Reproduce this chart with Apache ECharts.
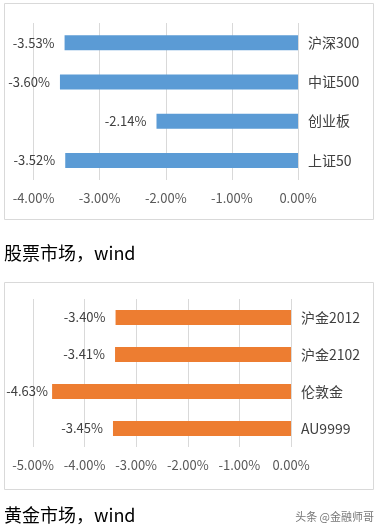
<!DOCTYPE html>
<html><head><meta charset="utf-8">
<script src="https://cdn.jsdelivr.net/npm/echarts@6/dist/echarts.min.js"></script>
<style>html,body{margin:0;padding:0;background:#fff}#c{width:382px;height:530px}</style>
</head><body><div id="c"></div>
<script>
var stockCats = ['沪深300', '中证500', '创业板', '上证50'];
var stockVals = [-3.53, -3.60, -2.14, -3.52];
var goldCats = ['沪金2012', '沪金2102', '伦敦金', 'AU9999'];
var goldVals = [-3.40, -3.41, -4.63, -3.45];
var stockTicks = [-4, -3, -2, -1, 0];
var goldTicks = [-5, -4, -3, -2, -1, 0];
var title1 = '股票市场，wind';
var title2 = '黄金市场，wind';
var watermark = '头条 @金融师哥';

var FONT = '"Noto Sans CJK SC", "Noto Sans", sans-serif';
var TXT = '#595959';
var GRID = '#D9D9D9';
function pct(v){ return Number(v).toFixed(2) + '%'; }

var grids = [
  {left:33.5, top:23, width:264.5, height:157},
  {left:33, top:299, width:258, height:148}
];

var chart = echarts.init(document.getElementById('c'), null, {renderer:'canvas'});
function xAx(idx, ticks){
  return {gridIndex: idx, type:'value', min: ticks[0], max: ticks[ticks.length-1], interval: 1,
    axisLine:{show:false}, axisTick:{show:false},
    splitLine:{show:true, lineStyle:{color:GRID, width:1}},
    axisLabel:{color:TXT, fontSize:13, fontFamily:FONT, margin:12, formatter: pct}};
}
function yAx(idx, cats){
  return {gridIndex: idx, type:'category', data: cats, inverse:true, position:'right',
    axisLine:{show:false}, axisTick:{show:false}, splitLine:{show:false},
    axisLabel:{color:'#404040', fontSize:14, fontFamily:FONT, margin:10}};
}
function ser(idx, vals, ticks, color){
  var g = grids[idx], mn = ticks[0], mx = ticks[ticks.length-1];
  var data = vals.map(function(v){
    var barLeft = g.left + (v - mn) / (mx - mn) * g.width;
    var d = 10;
    if (barLeft - d - 42 < 6) d = Math.max(0, barLeft - 48);
    return {value: v, label:{distance: d}};
  });
  return {type:'bar', xAxisIndex: idx, yAxisIndex: idx, data: data, barWidth: 15,
    itemStyle:{color: color},
    label:{show:true, position:'left', distance:10, color:'#404040', fontSize:13, fontFamily:FONT, formatter: function(p){return pct(p.value);}}};
}
chart.setOption({
  animation:false,
  textStyle:{fontFamily:FONT},
  graphic:[
    {type:'rect', shape:{x:4.5, y:3.5, width:369, height:216}, style:{fill:'none', stroke:GRID, lineWidth:1}},
    {type:'rect', shape:{x:4.5, y:282.5, width:369, height:207}, style:{fill:'none', stroke:GRID, lineWidth:1}},
    {type:'text', left:4, top:244, style:{text:title1, fill:'#000', font:'18px ' + FONT}},
    {type:'text', left:4, top:506, style:{text:title2, fill:'#000', font:'18px ' + FONT}},
    {type:'text', right:8, top:511, style:{text:watermark, fill:'#777', font:'11px ' + FONT}}
  ],
  grid: grids,
  xAxis:[xAx(0, stockTicks), xAx(1, goldTicks)],
  yAxis:[yAx(0, stockCats), yAx(1, goldCats)],
  series:[ser(0, stockVals, stockTicks, '#5B9BD5'), ser(1, goldVals, goldTicks, '#ED7D31')]
});
</script></body></html>
